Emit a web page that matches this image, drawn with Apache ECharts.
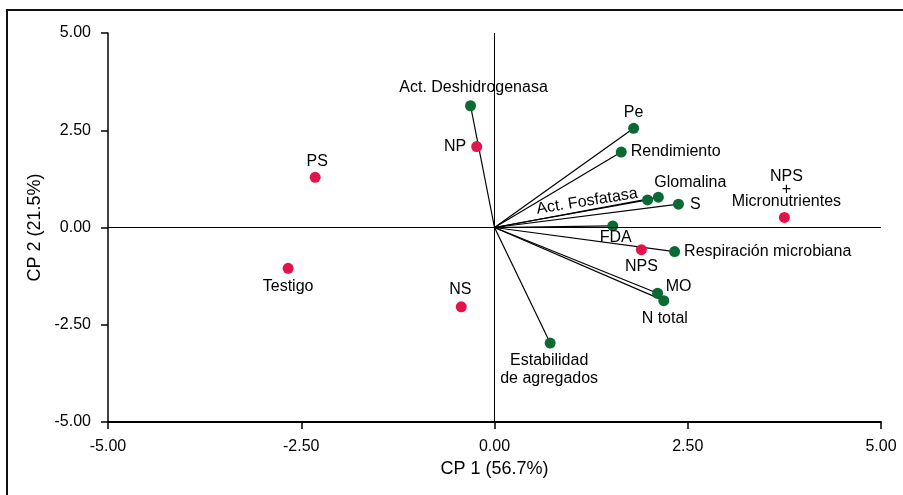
<!DOCTYPE html>
<html>
<head>
<meta charset="utf-8">
<script src="https://cdn.jsdelivr.net/npm/echarts@6/dist/echarts.min.js"></script>
<style>
html,body{margin:0;padding:0;background:#fff;}
#chart{width:903px;height:495px;}
</style>
</head>
<body>
<div id="chart"></div>
<script>
// ---- data ----
const variables = ['Act. Deshidrogenasa', 'Pe', 'Rendimiento', 'Glomalina', 'Act. Fosfatasa', 'S', 'FDA', 'Respiración microbiana', 'MO', 'N total', 'Estabilidad\nde agregados'];
const varCP1 = [-0.31, 1.80, 1.64, 2.12, 1.98, 2.38, 1.53, 2.33, 2.11, 2.19, 0.72];
const varCP2 = [3.13, 2.55, 1.94, 0.78, 0.71, 0.60, 0.04, -0.62, -1.69, -1.88, -2.97];

const treatments = ['NP', 'PS', 'Testigo', 'NS', 'NPS', 'NPS\n+\nMicronutrientes'];
const trtCP1 = [-0.23, -2.32, -2.67, -0.43, 1.90, 3.75];
const trtCP2 = [2.08, 1.29, -1.05, -2.04, -0.57, 0.26];

const axisMin = -5, axisMax = 5, axisStep = 2.5;
const xName = 'CP 1 (56.7%)';
const yName = 'CP 2 (21.5%)';

// ---- label layout (style only) ----
const FONT = "'Liberation Sans', Arial, sans-serif";
const TXT = '#000';
const labelLayout = {
  'Act. Deshidrogenasa': {position: 'inside', offset: [3, -18]},
  'Pe': {position: 'inside', offset: [0, -16]},
  'Rendimiento': {position: 'right', distance: 4},
  'Glomalina': {position: 'inside', offset: [32, -15]},
  'Act. Fosfatasa': {position: 'inside', offset: [-60, -8], rotate: 9},
  'S': {position: 'right', distance: 6},
  'FDA': {position: 'inside', offset: [3, 12]},
  'Respiración microbiana': {position: 'right', distance: 4},
  'MO': {position: 'inside', offset: [21, -7]},
  'N total': {position: 'inside', offset: [1, 18]},
  'Estabilidad\nde agregados': {position: 'inside', offset: [-1, 27], lineHeight: 18},
  'NP': {position: 'left', distance: 5},
  'PS': {position: 'inside', offset: [2, -16]},
  'Testigo': {position: 'inside', offset: [0, 18]},
  'NS': {position: 'inside', offset: [-1, -17]},
  'NPS': {position: 'inside', offset: [0, 17]},
  'NPS\n+\nMicronutrientes': {position: 'inside', offset: [2, -28], lineHeight: 12.5}
};

function pointItem(name, x, y) {
  const l = labelLayout[name] || {position: 'top'};
  return {
    name: name,
    value: [x, y],
    label: Object.assign({show: true, formatter: name, color: TXT, fontSize: 16, fontFamily: FONT}, l)
  };
}

const vectorSeries = variables.map((n, i) => ({
  type: 'line',
  data: [[0, 0], [varCP1[i], varCP2[i]]],
  symbol: 'none',
  silent: true,
  lineStyle: {color: '#000', width: 1.2},
  z: 2
}));

const chart = echarts.init(document.getElementById('chart'), null, {renderer: 'canvas'});
chart.setOption({
  animation: false,
  backgroundColor: '#fff',
  graphic: [{
    type: 'rect',
    shape: {x: 7, y: 10, width: 1200, height: 1200},
    style: {fill: 'none', stroke: '#111', lineWidth: 2},
    silent: true,
    z: 0
  }],
  grid: {left: 108, right: 22, top: 33, bottom: 73},
  xAxis: {
    type: 'value', min: axisMin, max: axisMax, interval: axisStep,
    name: xName, nameLocation: 'middle', nameGap: 38,
    nameTextStyle: {color: TXT, fontSize: 18, fontFamily: FONT},
    axisLine: {onZero: false, lineStyle: {color: '#000', width: 2}},
    axisTick: {show: true, length: 7, lineStyle: {color: '#000', width: 1.5}},
    axisLabel: {color: TXT, fontSize: 16, fontFamily: FONT, margin: 17, formatter: v => v.toFixed(2)},
    splitLine: {show: false}
  },
  yAxis: {
    type: 'value', min: axisMin, max: axisMax, interval: axisStep,
    name: yName, nameLocation: 'middle', nameGap: 63, nameRotate: 90,
    nameTextStyle: {color: TXT, fontSize: 18, fontFamily: FONT},
    axisLine: {onZero: false, lineStyle: {color: '#000', width: 1.5}},
    axisTick: {show: true, length: 7, lineStyle: {color: '#000', width: 1.5}},
    axisLabel: {color: TXT, fontSize: 16, fontFamily: FONT, margin: 17, formatter: v => v.toFixed(2)},
    splitLine: {show: false}
  },
  series: [
    {
      type: 'scatter', data: [], silent: true,
      markLine: {
        silent: true, symbol: 'none', animation: false,
        label: {show: false},
        lineStyle: {color: '#000', width: 1, type: 'solid'},
        data: [{xAxis: 0}, {yAxis: 0}]
      },
      z: 1
    },
    ...vectorSeries,
    {
      type: 'scatter',
      symbolSize: 11,
      itemStyle: {color: '#0b6a33', opacity: 1},
      data: variables.map((n, i) => pointItem(n, varCP1[i], varCP2[i])),
      z: 4
    },
    {
      type: 'scatter',
      symbolSize: 11,
      itemStyle: {color: '#e3124b', opacity: 1},
      data: treatments.map((n, i) => pointItem(n, trtCP1[i], trtCP2[i])),
      z: 5
    }
  ]
});
</script>
</body>
</html>
